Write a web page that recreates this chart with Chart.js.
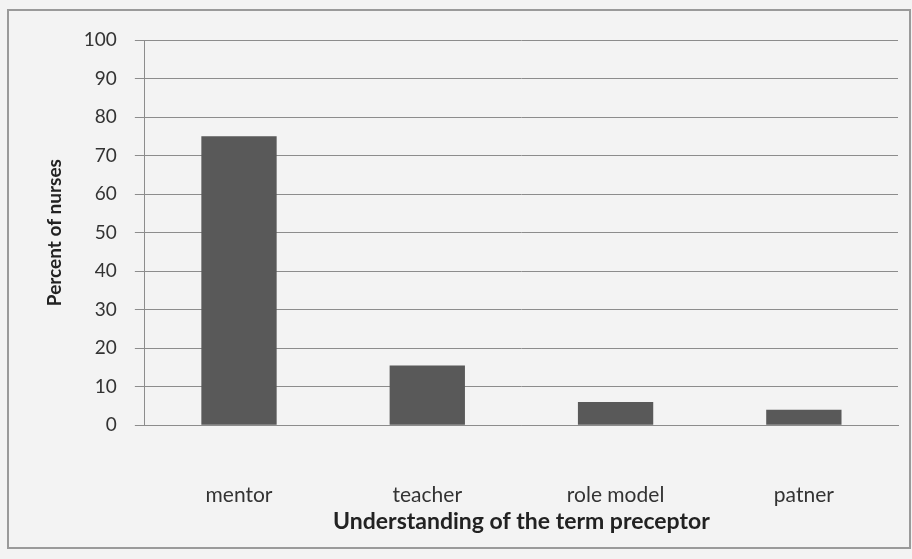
<!DOCTYPE html>
<html>
<head>
<meta charset="utf-8">
<script src="https://cdn.jsdelivr.net/npm/chart.js@4/dist/chart.umd.min.js"></script>
<style>
  html, body { margin: 0; padding: 0; background: #f1f1f1; }
  #wrap { width: 912px; height: 559px; position: relative; }
</style>
</head>
<body>
<div id="wrap"><canvas id="barChart" width="912" height="559"></canvas></div>
<script>
// values
const categories = ["mentor", "teacher", "role model", "patner"];
const percentNurses = [75, 15.5, 6, 4];
const yTicks = [0, 10, 20, 30, 40, 50, 60, 70, 80, 90, 100];

// grey frame round the whole chart, like the spreadsheet chart border
const framePlugin = {
    id: 'frame',
    beforeDraw(chart) {
        const c = chart.ctx;
        c.save();
        c.fillStyle = '#f3f3f3';
        c.fillRect(0, 0, chart.width, chart.height);
        c.strokeStyle = '#9a9a9a';
        c.lineWidth = 2;
        c.strokeRect(8, 10, 902, 538);
        c.restore();
    }
};

let ctx = document.getElementById("barChart").getContext("2d");
window.myBar = new Chart(ctx, {
    type: 'bar',
    data: {
        labels: categories,
        datasets: [{
            label: 'Percent of nurses',
            data: percentNurses,
            backgroundColor: '#595959',
            borderWidth: 0,
            barPercentage: 0.8,
            categoryPercentage: 0.5
        }]
    },
    plugins: [framePlugin],
    options: {
        responsive: false,
        animation: false,
        layout: {
            padding: {left: 23, top: 40, right: 14, bottom: 24}
        },
        plugins: {
            legend: {display: false},
            tooltip: {enabled: false}
        },
        scales: {
            x: {
                grid: {display: false, drawTicks: false},
                border: {color: '#8c8c8c', width: 1},
                ticks: {
                    padding: 57,
                    color: '#333',
                    font: {family: 'Lato', size: 21}
                },
                title: {
                    display: true,
                    text: 'Understanding of the term preceptor',
                    color: '#222',
                    font: {family: 'Lato', size: 23, weight: 'bold'},
                    padding: {top: 0, bottom: 0}
                },
                afterFit(axis) {
                    // tick padding gets counted twice in the fitted height
                    axis.height -= 57;
                }
            },
            y: {
                min: 0,
                max: 100,
                afterBuildTicks(axis) {
                    axis.ticks = yTicks.map(v => ({value: v}));
                },
                grid: {color: '#8c8c8c', lineWidth: 1, tickLength: 10},
                border: {color: '#8c8c8c', width: 1},
                ticks: {
                    padding: 18,
                    color: '#333',
                    font: {family: 'Lato', size: 19}
                },
                title: {
                    display: true,
                    text: 'Percent of nurses',
                    color: '#222',
                    font: {family: 'Lato', size: 19, weight: 'bold'},
                    padding: {top: 20, bottom: 0}
                }
            }
        }
    }
});
</script>
</body>
</html>
